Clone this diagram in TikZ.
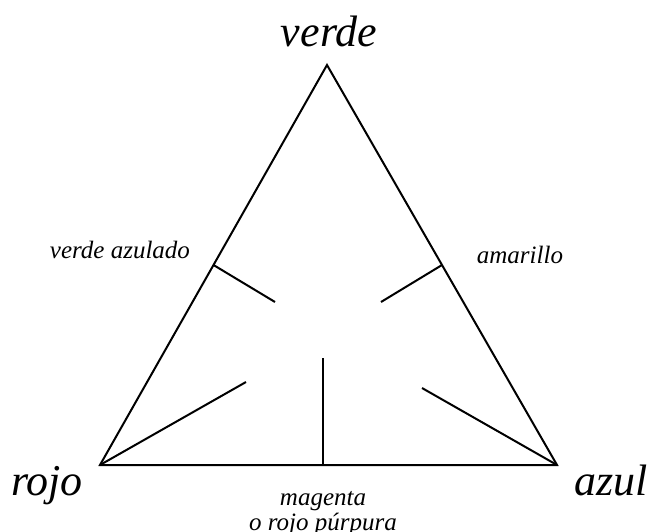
\documentclass[tikz,border=0pt]{standalone}
\usepackage{fontspec}
\setmainfont{Liberation Serif}
\begin{document}
\begin{tikzpicture}[x=1pt,y=-1pt,
  edge/.style={line width=2pt, line join=miter},
  big/.style={font=\fontsize{44}{50}\selectfont\itshape, inner sep=0pt, anchor=base},
  small/.style={font=\fontsize{25}{28}\selectfont\itshape, inner sep=0pt, anchor=base}]
\useasboundingbox (0,0) rectangle (655,532);
\coordinate (A) at (327,65);
\coordinate (L) at (100,465);
\coordinate (R) at (557,465);
\coordinate (ml) at (213.5,265);
\coordinate (mr) at (442,265);
\coordinate (mb) at (323,465);
\coordinate (il) at (275,302);
\coordinate (ir) at (381,302);
\coordinate (ib) at (323,358);
\coordinate (cl) at (246,382);
\coordinate (cr) at (422,388);
\draw[edge] (A) -- (L) -- (R) -- cycle;
\draw[edge] (ml) -- (il);
\draw[edge] (mr) -- (ir);
\draw[edge] (mb) -- (ib);
\draw[edge] (L) -- (cl);
\draw[edge] (R) -- (cr);
\node[big] (tv) at (329,47) {verde};
\node[big] (tr) at (47,495) {rojo};
\node[big] (ta) at (611,495) {azul};
\node[small] (tva) at (120,258) {verde azulado};
\node[small] (tam) at (520,263) {amarillo};
\node[small] (tm) at (323,505) {magenta};
\node[small] (tp) at (323,530) {o rojo púrpura};
\end{tikzpicture}
\end{document}
